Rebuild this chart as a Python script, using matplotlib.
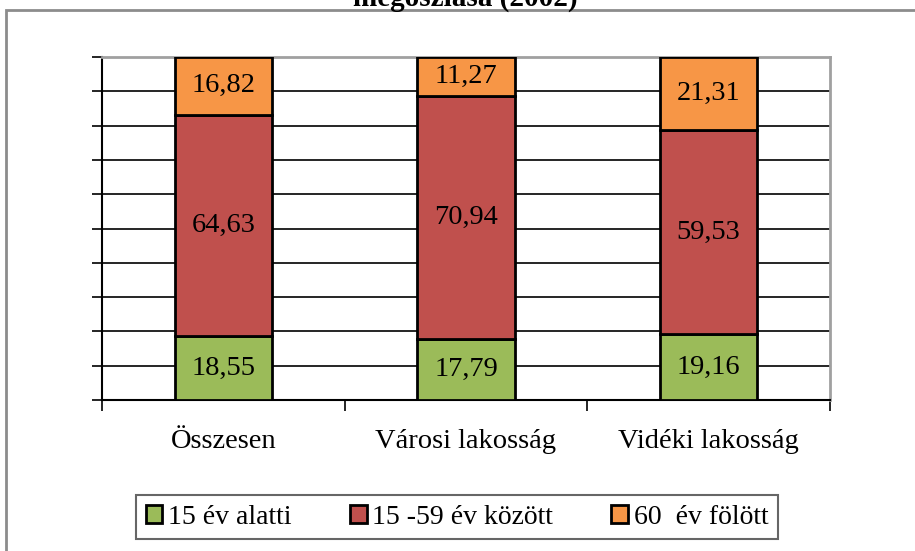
import matplotlib
matplotlib.use("Agg")
import matplotlib.pyplot as plt
from matplotlib.patches import Rectangle
import numpy as np

categories = ["Összesen", "Városi lakosság", "Vidéki lakosság"]
series_names = ["15 év alatti", "15 -59 év között", "60  év fölött"]
under15 = [18.55, 17.79, 19.16]
mid = [64.63, 70.94, 59.53]
over60 = [16.82, 11.27, 21.31]
colors = ["#9BBB59", "#C0504D", "#F79646"]

plt.rcParams['font.family'] = ['Liberation Serif', 'DejaVu Serif']

W, H = 915, 551
fig = plt.figure(figsize=(W / 100, H / 100), dpi=100)

# outer chart border (extends beyond right/bottom edges)
fig.patches.append(Rectangle((6 / W, -0.2), 1.2, 1.2 - 10 / H, transform=fig.transFigure,
                             fill=False, edgecolor="#8c8c8c", linewidth=2, clip_on=False))

# title (cut off at top)
fig.text(465 / W, 1 - 6 / H, "megoszlása (2002)", ha="center", va="baseline",
         fontsize=21, fontweight="bold")

left, right, top, bottom = 102, 830, 57, 400
ax = fig.add_axes([left / W, 1 - bottom / H, (right - left) / W, (bottom - top) / H])

x = np.arange(len(categories))
width = 0.4
series = [under15, mid, over60]
base = np.zeros(len(categories))
for vals, c, name in zip(series, colors, series_names):
    ax.bar(x, vals, width, bottom=base, color=c, edgecolor="black",
           linewidth=2, label=name, zorder=3)
    for xi, b, v in zip(x, base, vals):
        ax.text(xi, b + v / 2, f"{v:.2f}".replace(".", ","), ha="center", va="center",
                fontsize=20.5, zorder=4)
    base = base + np.array(vals)

ax.set_xlim(-0.5, 2.5)
ax.set_ylim(0, 100)
ax.set_yticks(np.arange(0, 101, 10))
ax.set_yticklabels([])
ax.yaxis.grid(True, color="black", linewidth=1.2, zorder=0)
ax.set_axisbelow(True)
ax.tick_params(axis="y", length=7, width=1.2, direction="out")
ax.set_xticks([-0.5, 0.5, 1.5, 2.5])
ax.set_xticklabels([])
ax.set_xticks(x, minor=True)
ax.set_xticklabels(categories, minor=True, fontsize=20.5)
ax.tick_params(axis="x", which="major", length=8, width=1.2, direction="out")
ax.tick_params(axis="x", which="minor", length=0, pad=21)

for s in ["left", "bottom"]:
    ax.spines[s].set_color("black")
    ax.spines[s].set_linewidth(1.5)
for s in ["top", "right"]:
    ax.spines[s].set_color("#a0a0a0")
    ax.spines[s].set_linewidth(2)

handles, labels = ax.get_legend_handles_labels()
leg = fig.legend(handles, labels, loc="center", bbox_to_anchor=(457 / W, 1 - 517 / H),
                 ncol=3, fontsize=20, frameon=True, fancybox=False, edgecolor="#404040",
                 handlelength=0.6, handleheight=0.6, handletextpad=0.2, columnspacing=2.1,
                 borderpad=0.35, borderaxespad=0)
leg.get_frame().set_linewidth(1.5)

fig.savefig("out.png", dpi=100)
